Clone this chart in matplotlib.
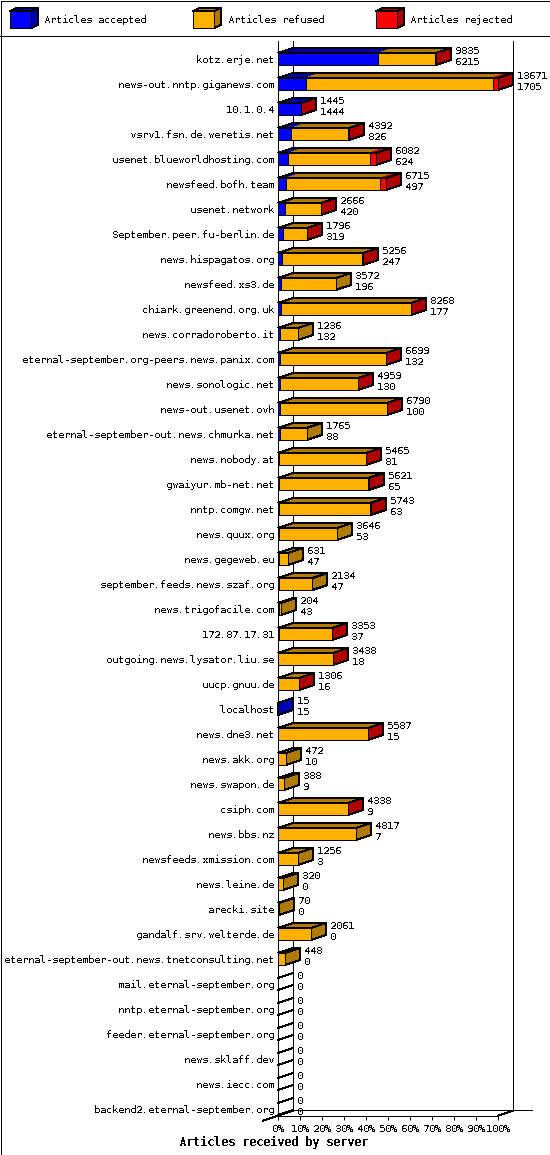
import matplotlib
matplotlib.use('Agg')
import matplotlib.pyplot as plt
from matplotlib.patches import Polygon, Rectangle

servers = ['kotz.erje.net', 'news-out.nntp.giganews.com', '10.1.0.4', 'vsrv1.fsn.de.weretis.net',
           'usenet.blueworldhosting.com', 'newsfeed.bofh.team', 'usenet.network', 'September.peer.fu-berlin.de',
           'news.hispagatos.org', 'newsfeed.xs3.de', 'chiark.greenend.org.uk', 'news.corradoroberto.it',
           'eternal-september.org-peers.news.panix.com', 'news.sonologic.net', 'news-out.usenet.ovh',
           'eternal-september-out.news.chmurka.net', 'news.nobody.at', 'gwaiyur.mb-net.net', 'nntp.comgw.net',
           'news.quux.org', 'news.gegeweb.eu', 'september.feeds.news.szaf.org', 'news.trigofacile.com',
           '172.87.17.31', 'outgoing.news.lysator.liu.se', 'uucp.gnuu.de', 'localhost', 'news.dne3.net',
           'news.akk.org', 'news.swapon.de', 'csiph.com', 'news.bbs.nz', 'newsfeeds.xmission.com',
           'news.leine.de', 'arecki.site', 'gandalf.srv.welterde.de',
           'eternal-september-out.news.tnetconsulting.net', 'mail.eternal-september.org',
           'nntp.eternal-september.org', 'feeder.eternal-september.org', 'news.sklaff.dev', 'news.iecc.com',
           'backend2.eternal-september.org']
totals = [9835, 13671, 1445, 4392, 6082, 6715, 2666, 1796, 5256, 3572, 8268, 1236, 6699, 4959, 6790, 1765,
          5465, 5621, 5743, 3646, 631, 2134, 204, 3353, 3438, 1306, 15, 5587, 472, 388, 4338, 4817, 1256,
          320, 70, 2061, 448, 0, 0, 0, 0, 0, 0]
accepted = [6215, 1705, 1444, 826, 624, 497, 420, 319, 247, 196, 177, 132, 132, 130, 100, 88, 81, 65, 63,
            53, 47, 47, 43, 37, 18, 16, 15, 15, 10, 9, 9, 7, 3, 0, 0, 0, 0, 0, 0, 0, 0, 0, 0]
# rejected is estimated from the width of the red part
rejected = [60, 340, 1, 30, 400, 370, 20, 10, 20, 0, 15, 0, 8, 9, 20, 0, 10, 12, 40, 0, 0, 0, 0, 5, 3, 3,
            0, 5, 0, 0, 6, 0, 0, 0, 0, 0, 0, 0, 0, 0, 0, 0, 0]
pct_labels = ['0%', '10%', '20%', '30%', '40%', '50%', '60%', '70%', '80%', '90%', '100%']
legend_names = ['Articles accepted', 'Articles refused', 'Articles rejected']

front_cols = ['#0000ff', '#ffb000', '#ff0000']
dark_cols = ['#0000b0', '#b07a00', '#b00000']

plt.rcParams['font.family'] = ['DejaVu Sans Mono']
plt.rcParams['font.size'] = 7.2
plt.rcParams['text.antialiased'] = False
plt.rcParams['patch.antialiased'] = False
plt.rcParams['lines.antialiased'] = False
plt.rcParams['text.hinting'] = 'native'
plt.rcParams['text.hinting_factor'] = 1

W, H = 550, 1155
lw = 0.72
fig = plt.figure(figsize=(W/100, H/100), dpi=100)


def px(x, y):
    return x/W, 1-y/H


# frame and legend in figure pixels
fig.add_artist(Rectangle(px(0.5, H-0.5), (W-1)/W, (H-1)/H, fill=False, ec='k', lw=lw, transform=fig.transFigure))
fig.add_artist(plt.Line2D([0, 1], [1-35.5/H]*2, color='k', lw=lw, transform=fig.transFigure))
for name, lx, fc, dc in zip(legend_names, [10, 193, 376], front_cols, dark_cols):
    fig.add_artist(Polygon([px(lx, 11), px(lx+7, 8), px(lx+28, 8), px(lx+21, 11)], fc=dc, ec='k', lw=lw, transform=fig.transFigure))
    fig.add_artist(Polygon([px(lx+21, 11), px(lx+28, 8), px(lx+28, 25), px(lx+21, 28)], fc=dc, ec='k', lw=lw, transform=fig.transFigure))
    fig.add_artist(Rectangle(px(lx, 28), 21/W, 17/H, fc=fc, ec='k', lw=lw, transform=fig.transFigure))
    fig.text((lx+34.5)/W, 1-20/H, name, va='center', ha='left')

# plot area: front plane, 0-max across, one row per 25 pixels
x0, x1 = 278.1, 498.1
ytop, ybot = 40.5, 1115.5
ax = fig.add_axes([x0/W, 1-ybot/H, (x1-x0)/W, (ybot-ytop)/H])
xmax = max(totals)
ax.set_xlim(0, xmax)
ax.set_ylim((ybot-59)/25, (ytop-59)/25)
ax.patch.set_visible(False)
for s in ['top', 'right']:
    ax.spines[s].set_visible(False)
for s in ['left', 'bottom']:
    ax.spines[s].set_linewidth(lw)

dx = 15*xmax/(x1-x0)
dy = -5/25
barh = 12/25
ylo, yhi = ax.get_ylim()

# back walls and floor
ax.plot([dx, dx], [yhi, ylo+dy], color='k', lw=lw, clip_on=False, zorder=1)
ax.plot([xmax+dx, xmax+dx], [yhi, ylo+dy], color='k', lw=lw, clip_on=False, zorder=1)
ax.plot([dx, xmax+dx+18.5*xmax/(x1-x0)], [ylo+dy, ylo+dy], color='k', lw=lw, clip_on=False, zorder=1)
ax.plot([-dx, dx], [ylo-dy, ylo+dy], color='k', lw=lw, clip_on=False, zorder=1)
ax.plot([xmax, xmax+dx], [ylo, ylo+dy], color='k', lw=lw, clip_on=False, zorder=1)

for i, total in enumerate(totals):
    refused = total-accepted[i]-rejected[i]
    parts = [accepted[i], refused, rejected[i]]
    top, bot = i-barh/2, i+barh/2
    if total == 0:
        ax.plot([0, dx], [top, top+dy], color='k', lw=lw, clip_on=False, zorder=2)
        ax.plot([0, dx], [bot, bot+dy], color='k', lw=lw, clip_on=False, zorder=2)
    else:
        left = 0
        last = max(j for j in range(3) if parts[j] > 0)
        for j in range(3):
            if parts[j] == 0:
                continue
            right = left+parts[j]
            ax.add_patch(Polygon([(left, top), (left+dx, top+dy), (right+dx, top+dy), (right, top)],
                                 fc=dark_cols[j], ec='none', clip_on=False, zorder=3))
            ax.barh(i, parts[j], left=left, height=barh, color=front_cols[j], edgecolor='k', linewidth=lw,
                    clip_on=False, zorder=5)
            left = right
        ax.add_patch(Polygon([(total, top), (total+dx, top+dy), (total+dx, bot+dy), (total, bot)],
                             fc=dark_cols[last], ec='k', lw=lw, clip_on=False, zorder=4))
        ax.add_patch(Polygon([(0, top), (dx, top+dy), (total+dx, top+dy), (total, top)],
                             fill=False, ec='k', lw=lw, clip_on=False, zorder=4))
    lab_x = total+dx+4*xmax/(x1-x0)
    ax.text(lab_x, i-8.2/25, str(total), va='center', ha='left', clip_on=False, zorder=6)
    ax.text(lab_x, i+3/25, str(accepted[i]), va='center', ha='left', clip_on=False, zorder=6)

ax.set_yticks(range(len(servers)))
ax.set_yticklabels(servers)
ax.tick_params(axis='y', length=0, pad=3.3)
ax.set_xticks([xmax*k/10 for k in range(11)])
ax.set_xticklabels(pct_labels)
ax.tick_params(axis='x', length=3, width=lw, pad=2.8)
ax.set_xlabel('Articles received by server', fontsize=8.4, fontweight='bold', x=-0.023, ha='center', labelpad=2)

fig.savefig('out.png', dpi=100)
